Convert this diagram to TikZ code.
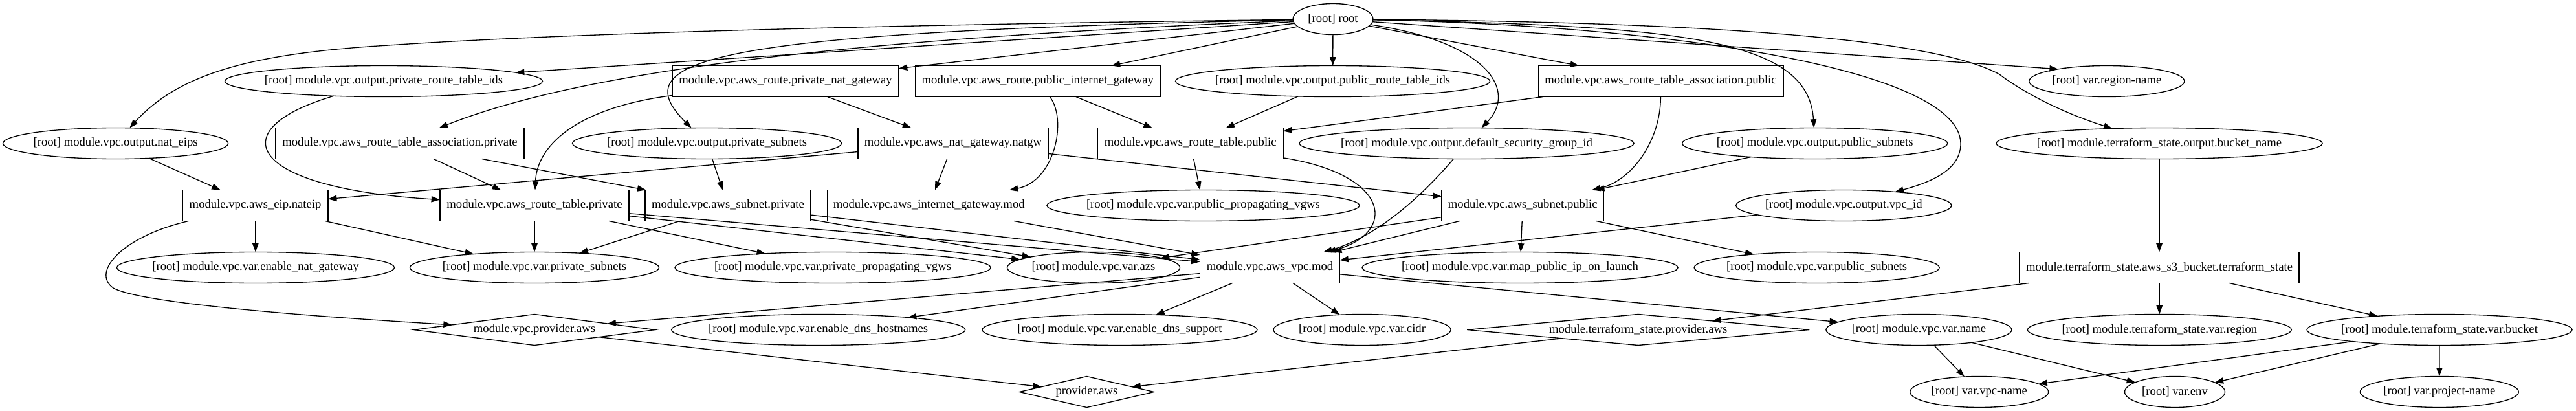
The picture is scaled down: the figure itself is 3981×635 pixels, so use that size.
\documentclass[tikz,border=0pt]{standalone}
\usepackage{fontspec}
\setmainfont{Liberation Serif}
\usetikzlibrary{shapes.geometric,arrows.meta}
\tikzset{
  gv/.style={draw, line width=1pt, outer sep=0pt, minimum height=36pt, font=\fontsize{14pt}{16.8pt}\selectfont},
  ell/.style={gv, ellipse, inner xsep=-60pt, inner ysep=0pt},
  box/.style={gv, rectangle, inner sep=0pt},
  dia/.style={gv, diamond, inner xsep=-150pt, inner ysep=-10pt},
  arr/.style={line width=1pt, -{Triangle[length=10pt,width=7pt]}},
}
\begin{document}
\begin{tikzpicture}[x=0.75pt,y=-0.75pt]
\fill[white] (0,0) rectangle (3981,635);
\useasboundingbox (0,0) rectangle (3981,635);
% row 0
\node[ell, minimum width=93pt] (root) at (2060,29.5) {[root] root};
% row 1
\node[ell, minimum width=368.25pt] (prtids) at (593,125.5) {[root] module.vpc.output.private\_route\_table\_ids};
\node[box, minimum width=262.5pt] (rpng) at (1214,125.5) {module.vpc.aws\_route.private\_nat\_gateway};
\node[box, minimum width=284.25pt] (rpig) at (1603.8,125.5) {module.vpc.aws\_route.public\_internet\_gateway};
\node[ell, minimum width=364.5pt] (purtids) at (2059.6,125.5) {[root] module.vpc.output.public\_route\_table\_ids};
\node[box, minimum width=284pt] (rtapub) at (2566.5,125.5) {module.vpc.aws\_route\_table\_association.public};
\node[ell, minimum width=180pt] (regionname) at (3255.8,125.5) {[root] var.region-name};
% row 2
\node[ell, minimum width=261pt] (nateips) at (178.6,221.5) {[root] module.vpc.output.nat\_eips};
\node[box, minimum width=288pt] (rtapriv) at (618,221.5) {module.vpc.aws\_route\_table\_association.private};
\node[ell, minimum width=312pt] (oprivsub) at (1092.6,221.5) {[root] module.vpc.output.private\_subnets};
\node[box, minimum width=220.5pt] (natgw) at (1473,221.5) {module.vpc.aws\_nat\_gateway.natgw};
\node[box, minimum width=215.25pt] (rtpub) at (1839.7,221.5) {module.vpc.aws\_route\_table.public};
\node[ell, minimum width=387.75pt] (dsg) at (2266.5,221.5) {[root] module.vpc.output.default\_security\_group\_id};
\node[ell, minimum width=307.5pt] (opubsub) at (2804.7,221.5) {[root] module.vpc.output.public\_subnets};
\node[ell, minimum width=378pt] (bucketname) at (3337,221.5) {[root] module.terraform\_state.output.bucket\_name};
% row 3
\node[box, minimum width=168.75pt] (eip) at (394.6,317.5) {module.vpc.aws\_eip.nateip};
\node[box, minimum width=219pt] (rtpriv) at (826,317.5) {module.vpc.aws\_route\_table.private};
\node[box, minimum width=192pt] (subpriv) at (1125,317.5) {module.vpc.aws\_subnet.private};
\node[box, minimum width=236.25pt] (igw) at (1435.7,317.5) {module.vpc.aws\_internet\_gateway.mod};
\node[ell, minimum width=362.25pt] (pubpvgw) at (1859.4,317.5) {[root] module.vpc.var.public\_propagating\_vgws};
\node[box, minimum width=188.25pt] (subpub) at (2353.3,317.5) {module.vpc.aws\_subnet.public};
\node[ell, minimum width=249.75pt] (vpcid) at (2849.3,317.5) {[root] module.vpc.output.vpc\_id};
% row 4
\node[ell, minimum width=321.75pt] (enat) at (395,413.5) {[root] module.vpc.var.enable\_nat\_gateway};
\node[ell, minimum width=288.75pt] (vprivsub) at (826,413.5) {[root] module.vpc.var.private\_subnets};
\node[ell, minimum width=366pt] (privpvgw) at (1287,413.5) {[root] module.vpc.var.private\_propagating\_vgws};
\node[ell, minimum width=200.25pt] (azs) at (1690,413.5) {[root] module.vpc.var.azs};
\node[box, minimum width=162pt] (vpc) at (1962.5,413.5) {module.vpc.aws\_vpc.mod};
\node[ell, minimum width=366pt] (mapip) at (2349,413.5) {[root] module.vpc.var.map\_public\_ip\_on\_launch};
\node[ell, minimum width=284.25pt] (vpubsub) at (2807.6,413.5) {[root] module.vpc.var.public\_subnets};
\node[box, minimum width=324pt] (s3) at (3337,413.5) {module.terraform\_state.aws\_s3\_bucket.terraform\_state};
% row 5
\node[dia, minimum width=279.75pt] (vpcprov) at (826,509.5) {module.vpc.provider.aws};
\node[ell, minimum width=340.5pt] (dnsh) at (1264.7,509.5) {[root] module.vpc.var.enable\_dns\_hostnames};
\node[ell, minimum width=318.75pt] (dnss) at (1730.4,509.5) {[root] module.vpc.var.enable\_dns\_support};
\node[ell, minimum width=205.5pt] (cidr) at (2105,509.5) {[root] module.vpc.var.cidr};
\node[dia, minimum width=396.75pt] (tsprov) at (2531.7,509.5) {module.terraform\_state.provider.aws};
\node[ell, minimum width=215.25pt] (vname) at (2965.4,509.5) {[root] module.vpc.var.name};
\node[ell, minimum width=306pt] (tsregion) at (3337.3,509.5) {[root] module.terraform\_state.var.region};
\node[ell, minimum width=307.5pt] (tsbucket) at (3770,509.5) {[root] module.terraform\_state.var.bucket};
% row 6
\node[dia, minimum width=156pt] (prov) at (1679.5,605.5) {provider.aws};
\node[ell, minimum width=160.5pt] (vpcname) at (3058.7,605.5) {[root] var.vpc-name};
\node[ell, minimum width=116.25pt] (env) at (3361,605.5) {[root] var.env};
\node[ell, minimum width=183.75pt] (projname) at (3769.8,605.5) {[root] var.project-name};
% edges from root
\draw[arr] (root) .. controls (1400,38) and (900,50) .. (600,70) .. controls (400,82) and (280,110) .. (nateips);
\draw[arr] (root) -- (prtids);
\draw[arr] (root) .. controls (1300,60) and (900,110) .. (rtapriv);
\draw[arr] (root) -- (rpng);
\draw[arr] (root) .. controls (1100,50) and (960,90) .. (oprivsub);
\draw[arr] (root) -- (rpig);
\draw[arr] (root) -- (purtids);
\draw[arr] (root) .. controls (2300,65) and (2345,140) .. (dsg);
\draw[arr] (root) -- (rtapub);
\draw[arr] (root) .. controls (2600,40) and (2795,60) .. (opubsub);
\draw[arr] (root) .. controls (2600,40) and (3030,110) .. (3030,222) .. controls (3030,260) and (2990,280) .. (vpcid);
\draw[arr] (root) -- (regionname.166);
\draw[arr] (root) .. controls (2700,35) and (3000,65) .. (3090,115) .. controls (3130,145) and (3190,175) .. (bucketname);
% row 1 -> row 2/3
\draw[arr] (prtids) .. controls (340,200) and (380,290) .. (rtpriv);
\draw[arr] (rpng) .. controls (900,165) and (830,220) .. (rtpriv);
\draw[arr] (rpng) -- (natgw);
\draw[arr] (rpig) .. controls (1650,185) and (1630,280) .. (igw);
\draw[arr] (rpig) -- (rtpub);
\draw[arr] (purtids) -- (rtpub);
\draw[arr] (rtapub) -- (rtpub);
\draw[arr] (rtapub) .. controls (2566,220) and (2520,280) .. (subpub);
% row 2 -> row 3/4
\draw[arr] (nateips) -- (eip);
\draw[arr] (rtapriv) -- (rtpriv);
\draw[arr] (rtapriv) -- (subpriv);
\draw[arr] (oprivsub) -- (subpriv);
\draw[arr] (natgw) -- (eip);
\draw[arr] (natgw) -- (igw);
\draw[arr] (natgw) -- (subpub);
\draw[arr] (rtpub) -- (pubpvgw);
\draw[arr] (rtpub) .. controls (2150,270) and (2160,360) .. (vpc);
\draw[arr] (dsg) .. controls (2200,300) and (2130,365) .. (vpc);
\draw[arr] (opubsub) -- (subpub);
\draw[arr] (bucketname) -- (s3);
% row 3 -> row 4/5
\draw[arr] (eip) -- (enat);
\draw[arr] (eip) -- (vprivsub);
\draw[arr] (eip) .. controls (190,365) and (140,420) .. (175,445) .. controls (220,470) and (500,490) .. (vpcprov);
\draw[arr] (rtpriv) -- (vprivsub);
\draw[arr] (rtpriv) -- (privpvgw);
\draw[arr] (rtpriv) -- (azs);
\draw[arr] (rtpriv) -- (vpc);
\draw[arr] (subpriv) -- (vprivsub);
\draw[arr] (subpriv) -- (azs);
\draw[arr] (subpriv) -- (vpc);
\draw[arr] (igw) -- (vpc);
\draw[arr] (subpub) -- (azs);
\draw[arr] (subpub) -- (vpc);
\draw[arr] (subpub) -- (mapip);
\draw[arr] (subpub) -- (vpubsub);
\draw[arr] (vpcid) -- (vpc);
% row 4 -> row 5
\draw[arr] (vpc) -- (vpcprov);
\draw[arr] (vpc) -- (dnsh);
\draw[arr] (vpc) -- (dnss);
\draw[arr] (vpc) -- (cidr);
\draw[arr] (vpc) -- (vname);
\draw[arr] (s3) -- (tsprov);
\draw[arr] (s3) -- (tsregion);
\draw[arr] (s3) -- (tsbucket);
% row 5 -> row 6
\draw[arr] (vpcprov) -- (prov);
\draw[arr] (tsprov) -- (prov);
\draw[arr] (vname) -- (vpcname);
\draw[arr] (vname) -- (env);
\draw[arr] (tsbucket) -- (vpcname);
\draw[arr] (tsbucket) -- (env);
\draw[arr] (tsbucket) -- (projname);
\end{tikzpicture}
\end{document}
